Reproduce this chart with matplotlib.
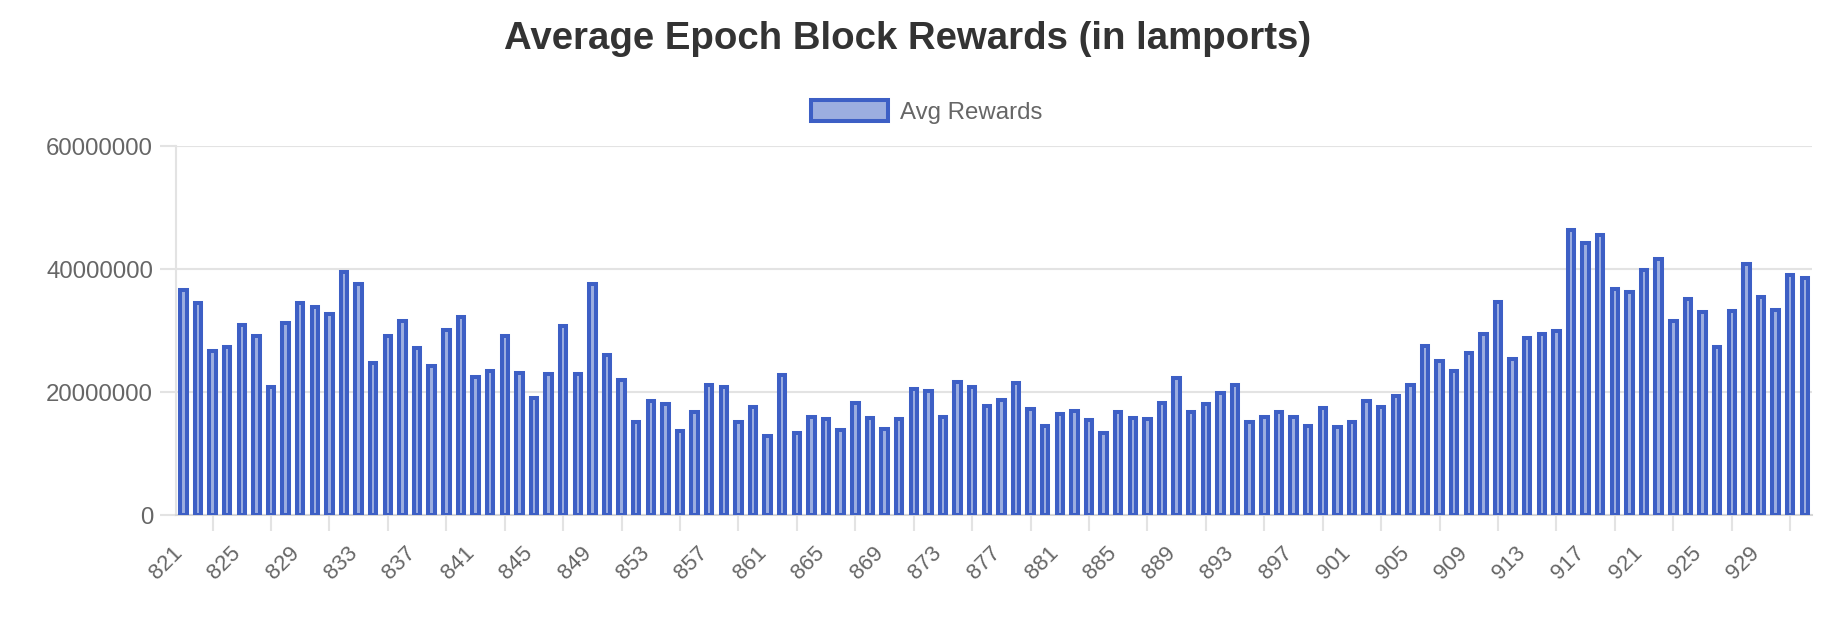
import numpy as np
import matplotlib.pyplot as plt
from matplotlib.ticker import FixedLocator, FuncFormatter
from matplotlib.transforms import ScaledTranslation

plt.rcParams['font.family'] = ['Liberation Sans', 'DejaVu Sans']

# epochs 821..932 and average block rewards (lamports in millions)
epochs = list(range(821, 933))
avg_rewards_m = [
    36.6, 34.5, 26.7, 27.3, 30.9, 29.2, 20.8, 31.2, 34.5, 33.8,
    32.7, 39.6, 37.5, 24.7, 29.1, 31.6, 27.1, 24.2, 30.1, 32.2,
    22.4, 23.4, 29.2, 23.1, 19.0, 23.0, 30.8, 22.9, 37.6, 26.1,
    22.0, 15.2, 18.6, 18.0, 13.7, 16.7, 21.2, 20.9, 15.1, 17.6,
    12.8, 22.7, 13.3, 15.9, 15.7, 13.9, 18.2, 15.8, 14.0, 15.6,
    20.5, 20.1, 16.0, 21.6, 20.8, 17.8, 18.7, 21.5, 17.3, 14.5,
    16.5, 16.9, 15.4, 13.4, 16.8, 15.8, 15.6, 18.3, 22.3, 16.8,
    18.0, 19.9, 21.1, 15.2, 16.0, 16.7, 16.0, 14.5, 17.4, 14.3,
    15.1, 18.6, 17.6, 19.3, 21.1, 27.5, 25.0, 23.4, 26.3, 29.5,
    34.6, 25.3, 28.8, 29.5, 30.0, 46.4, 44.3, 45.6, 36.7, 36.3,
    39.8, 41.6, 31.6, 35.2, 33.1, 27.4, 33.2, 40.8, 35.5, 33.3,
    39.1, 38.5,
]
avg_rewards = [v * 1e6 for v in avg_rewards_m]

fill_color = '#9caee0'
edge_color = '#3d5fc5'
grid_color = '#e3e3e3'
text_color = '#666666'

fig = plt.figure(figsize=(18.38, 6.22), dpi=100)
ax = fig.add_axes([0.0958, 0.172, 0.8901, 0.593])

x = np.arange(len(epochs))
bars = ax.bar(x, avg_rewards, width=0.44, color=fill_color, edgecolor=edge_color,
              linewidth=2.9, label='Avg Rewards', zorder=3)

ax.set_xlim(-0.5, len(epochs) - 0.5)
ax.set_ylim(0, 60000000)
ax.set_yticks([0, 20000000, 40000000, 60000000])
ax.yaxis.set_major_formatter(FuncFormatter(lambda v, p: f'{int(v)}'))
ax.grid(axis='y', color=grid_color, linewidth=1.5, zorder=0)

# labels every 4th epoch, tick marks halfway between labels
ax.set_xticks(x[::4])
ax.set_xticklabels([str(e) for e in epochs[::4]], rotation=45, ha='right', va='top')
ax.xaxis.set_minor_locator(FixedLocator(x[2::4]))
ax.tick_params(axis='x', which='major', length=0, pad=20, labelsize=16, labelcolor=text_color)
ax.tick_params(axis='x', which='minor', length=11.5, width=1.5, color=grid_color)
ax.tick_params(axis='y', length=11.5, width=1.5, color=grid_color, pad=5,
               labelsize=17.3, labelcolor=text_color)
shift = ScaledTranslation(3 / 100, 0, fig.dpi_scale_trans)
for lbl in ax.get_xticklabels():
    lbl.set_transform(lbl.get_transform() + shift)

for side in ['top', 'right']:
    ax.spines[side].set_visible(False)
ax.spines['left'].set_color(grid_color)
ax.spines['left'].set_linewidth(1.5)
ax.spines['bottom'].set_color('#d6d6d6')
ax.spines['bottom'].set_linewidth(1.5)

fig.text(0.494, 0.921, 'Average Epoch Block Rewards (in lamports)', ha='center', va='baseline',
         fontsize=27.6, fontweight='bold', color='#333333')

fig.legend(handles=[bars], loc='center', bbox_to_anchor=(0.504, 0.82), frameon=False,
           fontsize=17.3, labelcolor=text_color, handlelength=3.2, handleheight=0.95,
           handletextpad=0.5)

fig.savefig('out.png', dpi=100)
